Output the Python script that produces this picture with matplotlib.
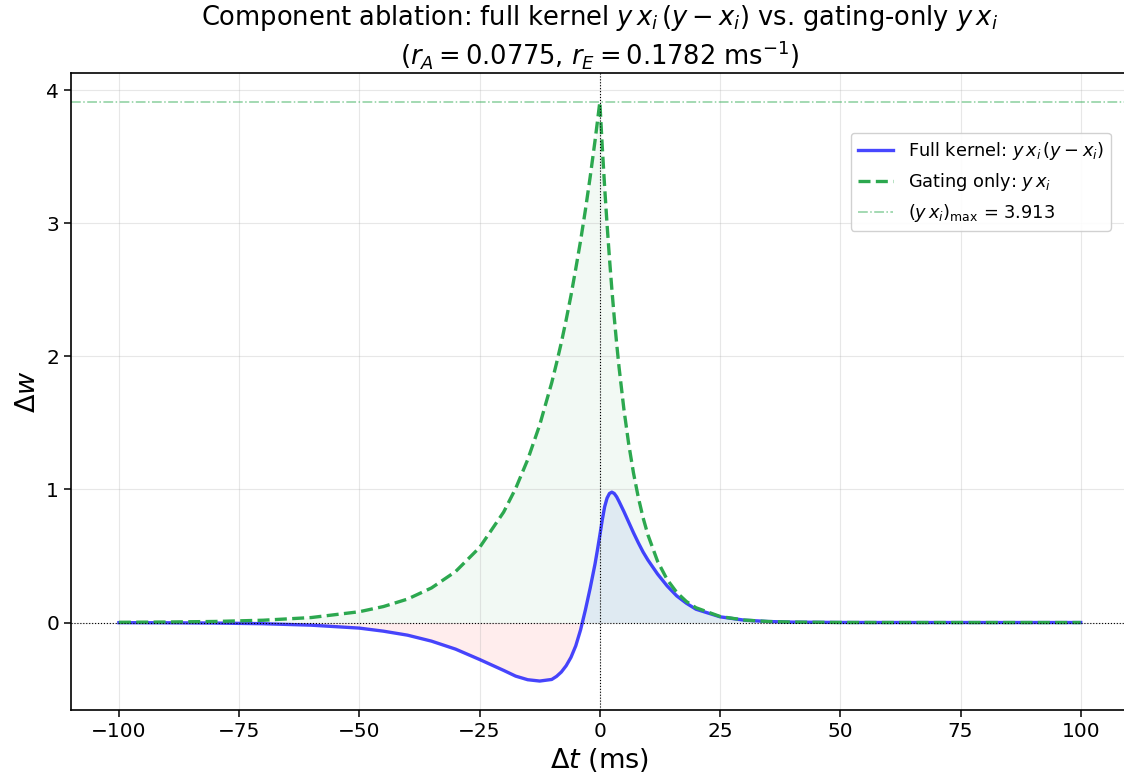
import matplotlib
matplotlib.use("Agg")
import matplotlib.pyplot as plt
import numpy as np

# Δt sample points (ms)
dt = [-100, -90, -80, -70, -60, -50, -45, -40, -35, -30, -25, -20, -17.5, -15,
      -12.5, -10, -9, -8, -7, -6, -5, -4, -3, -2, -1, -0.5, 0, 0.5, 1, 1.5, 2,
      2.5, 3, 3.5, 4, 5, 6, 7, 8, 9, 10, 12, 14, 16, 18, 20, 25, 30, 35, 40, 50,
      60, 70, 80, 90, 100]

# Gating only: y * x_i
gating = [0.0017, 0.0037, 0.0079, 0.0172, 0.0374, 0.0812, 0.120, 0.176, 0.260,
          0.383, 0.564, 0.830, 1.008, 1.224, 1.485, 1.803, 1.950, 2.105, 2.275,
          2.458, 2.660, 2.870, 3.101, 3.351, 3.621, 3.765, 3.913, 3.580, 3.274,
          2.995, 2.740, 2.506, 2.293, 2.097, 1.918, 1.605, 1.343, 1.124, 0.941,
          0.787, 0.659, 0.461, 0.323, 0.226, 0.158, 0.111, 0.0455, 0.0187, 0.0077,
          0.0031, 0.0005, 0.0001, 0.0, 0.0, 0.0, 0.0]

# Full kernel: y * x_i * (y - x_i)
full = [-0.001, -0.002, -0.004, -0.009, -0.02, -0.042, -0.065, -0.095, -0.14,
        -0.20, -0.278, -0.36, -0.403, -0.43, -0.44, -0.428, -0.405, -0.372,
        -0.325, -0.262, -0.175, -0.055, 0.095, 0.26, 0.44, 0.545, 0.655, 0.77,
        0.87, 0.935, 0.97, 0.98, 0.97, 0.945, 0.91, 0.835, 0.755, 0.675, 0.60,
        0.53, 0.47, 0.365, 0.275, 0.20, 0.145, 0.10, 0.043, 0.018, 0.0075, 0.003,
        0.0005, 0.0001, 0.0, 0.0, 0.0, 0.0]

gating_max = 3.913
xticks = [-100, -75, -50, -25, 0, 25, 50, 75, 100]
yticks = [0, 1, 2, 3, 4]

x = np.array(dt)
g = np.array(gating)
f = np.array(full)

green = "#2ca84f"
blue = (0.0, 0.0, 1.0, 0.72)

fig = plt.figure(figsize=(11.24, 7.81), dpi=100)
ax = fig.add_axes([0.063, 0.0909, 0.9413, 0.8156])

ax.fill_between(x, 0, g, color=green, alpha=0.06, linewidth=0)
ax.fill_between(x, 0, f, where=f < 0, color="red", alpha=0.07, linewidth=0, interpolate=True)
ax.fill_between(x, 0, f, where=f > 0, color="royalblue", alpha=0.10, linewidth=0, interpolate=True)

ax.plot(x, f, color=blue, lw=2.4, label=r"Full kernel: $y\,x_i\,(y - x_i)$")
ax.plot(x, g, color=green, lw=2.4, ls=(0, (3.6, 1.6)), label=r"Gating only: $y\,x_i$")
ax.axhline(gating_max, color=green, alpha=0.55, lw=1.1, ls="-.",
           label=r"$(y\,x_i)_{\max}$ = 3.913")
ax.axhline(0, color="black", lw=0.8, ls=":")
ax.axvline(0, color="black", lw=0.8, ls=":")

ax.set_xticks(xticks)
ax.set_yticks(yticks)
ax.tick_params(labelsize=14.5, width=1.1, length=5)
for s in ax.spines.values():
    s.set_linewidth(1.2)
ax.grid(True, alpha=0.3)
ax.set_xlabel(r"$\Delta t$ (ms)", fontsize=19.5)
ax.set_ylabel(r"$\Delta w$", fontsize=19.5)
ax.set_title("Component ablation: full kernel $y\\,x_i\\,(y - x_i)$ vs. gating-only $y\\,x_i$\n"
             "($r_A = 0.0775$, $r_E = 0.1782$ ms$^{-1}$)", fontsize=18.5)

ax.legend(loc="upper right", bbox_to_anchor=(0.983, 0.906), borderaxespad=0,
          fontsize=12.8, framealpha=0.9)

fig.savefig("out.png", dpi=100)
